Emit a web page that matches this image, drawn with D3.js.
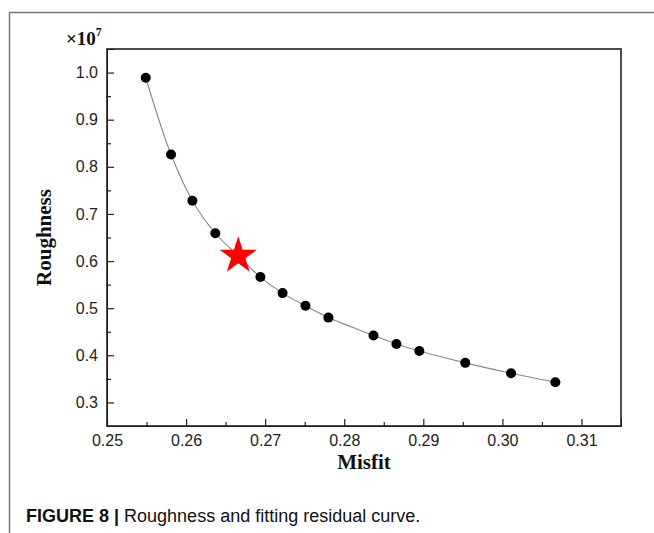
<!DOCTYPE html>
<html>
<head>
<meta charset="utf-8">
<script src="https://cdn.jsdelivr.net/npm/d3@7"></script>
<style>
  body { margin: 0; background: #fff; }
</style>
</head>
<body>
<div id="chart"></div>
<script>
// data (roughness in units of 1e7)
const misfit = [0.2549, 0.2581, 0.2608, 0.2637, 0.2666, 0.2694, 0.2722, 0.2751, 0.2780,
  0.2837, 0.2866, 0.2895, 0.2953, 0.3011, 0.3067];
const roughness = [0.989, 0.826, 0.728, 0.659, 0.611, 0.566, 0.532, 0.505, 0.480,
  0.442, 0.424, 0.409, 0.384, 0.362, 0.343];
const starIndex = 4; // the chosen point, drawn as a red star
const xTicks = [0.25, 0.26, 0.27, 0.28, 0.29, 0.30, 0.31];
const yTicks = [0.3, 0.4, 0.5, 0.6, 0.7, 0.8, 0.9, 1.0];

const W = 654, H = 533;
const margin = { top: 49, right: 33, bottom: 107, left: 107 };
const width = W - margin.left - margin.right;
const height = H - margin.top - margin.bottom;

const svg = d3.select('#chart').append('svg')
  .attr('width', W)
  .attr('height', H);

// outer figure frame
svg.append('path')
  .attr('d', `M9.5,${H} V12.5 H${W}`)
  .attr('fill', 'none')
  .attr('stroke', '#777')
  .attr('stroke-width', 1.5);

const g = svg.append('g')
  .attr('transform', `translate(${margin.left},${margin.top})`);

const x = d3.scaleLinear().domain([0.25, 0.315]).range([0, width]);
const y = d3.scaleLinear().domain([0.25, 1.05]).range([height, 0]);

// minor ticks
g.append('g')
  .attr('transform', `translate(0,${height})`)
  .call(d3.axisBottom(x).tickValues(d3.range(0.255, 0.315, 0.01)).tickSize(-4).tickFormat(''))
  .call(a => a.select('.domain').remove());
g.append('g')
  .call(d3.axisLeft(y).tickValues(d3.range(0.35, 1.05, 0.1)).tickSize(-4).tickFormat(''))
  .call(a => a.select('.domain').remove());

// major axes
const xAxis = g.append('g')
  .attr('transform', `translate(0,${height})`)
  .call(d3.axisBottom(x).tickValues(xTicks).tickSize(-7).tickPadding(9).tickFormat(d3.format('.2f')));
const yAxis = g.append('g')
  .call(d3.axisLeft(y).tickValues(yTicks).tickSize(-7).tickPadding(9).tickFormat(d3.format('.1f')));

[xAxis, yAxis].forEach(a => {
  a.selectAll('text')
    .style('font-family', '"Liberation Sans", Arial, sans-serif')
    .style('font-size', '16px')
    .attr('fill', '#222');
});
g.selectAll('.tick line').attr('stroke', '#222').attr('stroke-width', 1.2);

// plot frame
g.append('rect')
  .attr('width', width)
  .attr('height', height)
  .attr('fill', 'none')
  .attr('stroke', '#222')
  .attr('stroke-width', 1.6);

const pts = misfit.map((m, i) => ({ m, r: roughness[i] }));

g.append('path')
  .datum(pts)
  .attr('d', d3.line().x(d => x(d.m)).y(d => y(d.r)).curve(d3.curveCatmullRom))
  .attr('fill', 'none')
  .attr('stroke', '#888')
  .attr('stroke-width', 1.1);

g.selectAll('.pt')
  .data(pts.filter((d, i) => i !== starIndex))
  .enter().append('circle')
  .attr('class', 'pt')
  .attr('cx', d => x(d.m))
  .attr('cy', d => y(d.r))
  .attr('r', 5)
  .attr('fill', '#000');

g.append('path')
  .attr('d', d3.symbol().type(d3.symbolStar).size(430)())
  .attr('transform', `translate(${x(pts[starIndex].m)},${y(pts[starIndex].r)})`)
  .attr('fill', '#ff0000');

// axis titles
g.append('text')
  .attr('x', width / 2)
  .attr('y', height + 43)
  .attr('text-anchor', 'middle')
  .style('font-family', '"Liberation Serif", "Times New Roman", serif')
  .style('font-weight', 'bold')
  .style('font-size', '21px')
  .attr('fill', '#111')
  .text('Misfit');

g.append('text')
  .attr('transform', `translate(-56,${height / 2}) rotate(-90)`)
  .attr('text-anchor', 'middle')
  .style('font-family', '"Liberation Serif", "Times New Roman", serif')
  .style('font-weight', 'bold')
  .style('font-size', '21px')
  .attr('fill', '#111')
  .text('Roughness');

// multiplier
const mult = svg.append('text')
  .attr('x', 66)
  .attr('y', 45)
  .style('font-family', '"Liberation Serif", "Times New Roman", serif')
  .style('font-weight', 'bold')
  .style('font-size', '19px')
  .attr('fill', '#111');
mult.append('tspan').text('×10');
mult.append('tspan').attr('dy', -9).style('font-size', '12px').text('7');

// caption
const cap = svg.append('text')
  .attr('x', 26)
  .attr('y', 522)
  .style('font-family', '"Liberation Sans", Arial, sans-serif')
  .style('font-size', '18px')
  .attr('fill', '#111');
cap.append('tspan').style('font-weight', 'bold').text('FIGURE 8 | ');
cap.append('tspan').text('Roughness and fitting residual curve.');
</script>
</body>
</html>
